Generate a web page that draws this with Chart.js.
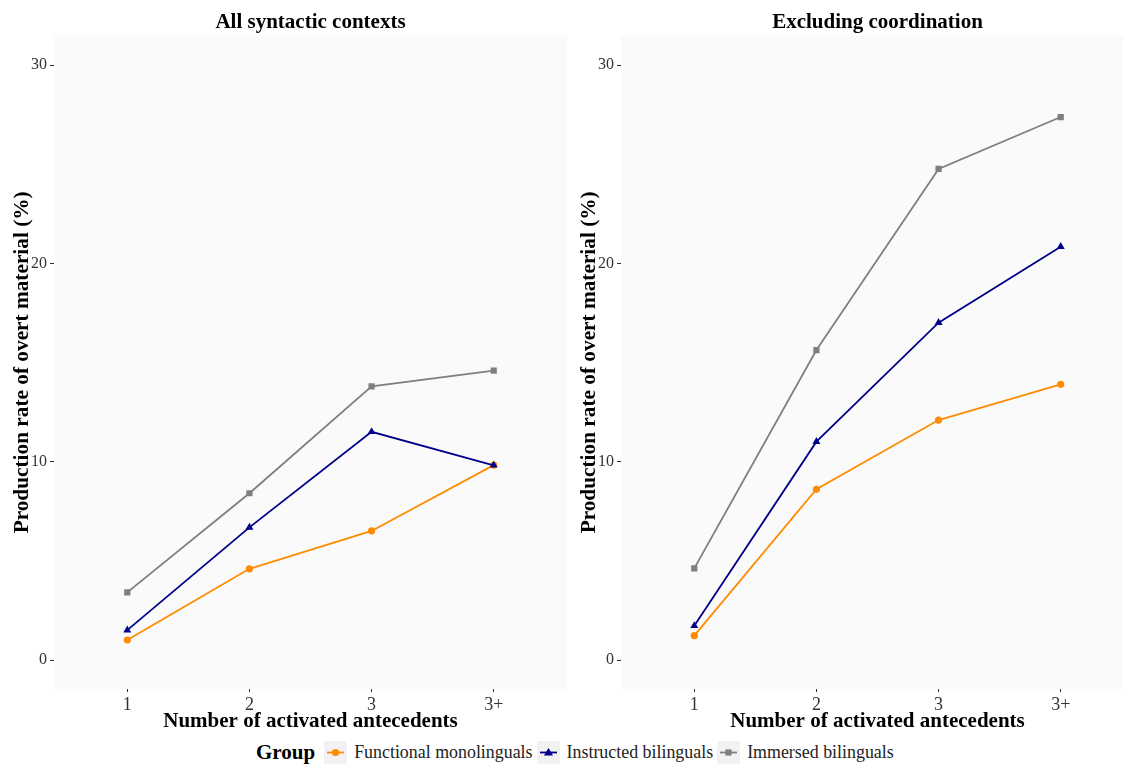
<!DOCTYPE html>
<html>
<head>
<meta charset="utf-8">
<script src="https://cdn.jsdelivr.net/npm/chart.js@4.4.1/dist/chart.umd.min.js"></script>
<style>
  body { margin: 0; width: 1123px; height: 767px; overflow: hidden; background: #fff; position: relative; font-family: "Liberation Serif", "Times New Roman", serif; }
  .panel { position: absolute; top: 0; width: 567px; height: 740px; }
  #legend { position: absolute; left: 256px; top: 741px; height: 23px; display: flex; align-items: center; white-space: nowrap; }
  #legend .title { font-weight: bold; font-size: 21px; margin-right: 9px; }
  #legend .key { width: 23px; height: 23px; background: #f2f2f2; margin-right: 7px; }
  #legend .lab { font-size: 17.9px; color: #222; margin-right: 4px; }
</style>
</head>
<body>
<div class="panel" style="left:0"><canvas id="left"></canvas></div>
<div class="panel" style="left:567px"><canvas id="right"></canvas></div>
<div id="legend"></div>

<script>
  // categories / ticks
  var categories = ["1", "2", "3", "3+"];
  var yTicks = [0, 10, 20, 30];
  var groups = ["Functional monolinguals", "Instructed bilinguals", "Immersed bilinguals"];

  // All syntactic contexts
  var allFunctional = [1.01, 4.60, 6.51, 9.83];
  var allInstructed = [1.51, 6.69, 11.51, 9.82];
  var allImmersed = [3.41, 8.41, 13.80, 14.59];

  // Excluding coordination
  var exclFunctional = [1.23, 8.61, 12.10, 13.90];
  var exclInstructed = [1.73, 11.01, 17.01, 20.84];
  var exclImmersed = [4.62, 15.63, 24.76, 27.38];

  var groupColors = ["#ff8c00", "#00008b", "#7f7f7f"];
  var groupShapes = ["circle", "triangle", "rect"];
  var groupRadius = [3.6, 4.6, 4.4];

  var panelBg = {
    id: "panelBg",
    beforeDraw: function (chart) {
      var a = chart.chartArea, ctx = chart.ctx;
      ctx.save();
      ctx.fillStyle = "#fafafa";
      ctx.fillRect(a.left, a.top, a.right - a.left, a.bottom - a.top);
      ctx.restore();
    }
  };

  function toPoints(values) {
    return values.map(function (v, i) { return { x: i + 1, y: v }; });
  }

  function makeChart(id, title, series) {
    var datasets = series.map(function (vals, g) {
      return {
        label: groups[g],
        data: toPoints(vals),
        borderColor: groupColors[g],
        backgroundColor: groupColors[g],
        borderWidth: 1.8,
        pointStyle: groupShapes[g],
        pointRadius: groupRadius[g],
        pointBorderWidth: 0,
        order: 2 - g,
        tension: 0
      };
    });

    return new Chart(document.getElementById(id), {
      type: "line",
      data: { datasets: datasets },
      plugins: [panelBg],
      options: {
        responsive: true,
        maintainAspectRatio: false,
        animation: false,
        layout: { padding: 0, autoPadding: false },
        plugins: {
          legend: { display: false },
          tooltip: { enabled: false },
          title: {
            display: true,
            text: title,
            fullSize: false,
            color: "#000",
            font: { family: "Liberation Serif", size: 21, weight: "bold", lineHeight: 1.2 },
            padding: { top: 9.5, bottom: 1 }
          }
        },
        scales: {
          x: {
            type: "linear",
            min: 0.4,
            max: 4.6,
            afterBuildTicks: function (s) {
              s.ticks = categories.map(function (c, i) { return { value: i + 1 }; });
            },
            afterFit: function (s) { s.height = 51; s.paddingLeft = 0; s.paddingRight = 0; },
            grid: { display: true, drawOnChartArea: false, drawTicks: true, tickLength: 3, tickColor: "#333", tickWidth: 1 },
            border: { display: false },
            ticks: {
              color: "#333",
              padding: 2,
              maxRotation: 0,
              autoSkip: false,
              font: { family: "Liberation Serif", size: 18 },
              callback: function (v) { return categories[Math.round(v) - 1]; }
            },
            title: {
              display: true,
              text: "Number of activated antecedents",
              color: "#000",
              font: { family: "Liberation Serif", size: 21, weight: "bold", lineHeight: 1.2 },
              padding: { top: 0, bottom: 5.4 }
            }
          },
          y: {
            min: -1.46,
            max: 31.48,
            afterBuildTicks: function (s) {
              s.ticks = yTicks.map(function (v) { return { value: v }; });
            },
            afterFit: function (s) { s.width = 54; },
            grid: { display: true, drawOnChartArea: false, drawTicks: true, tickLength: 4, tickColor: "#333", tickWidth: 1 },
            border: { display: false },
            ticks: {
              color: "#333",
              padding: 3,
              font: { family: "Liberation Serif", size: 16 }
            },
            title: {
              display: true,
              text: "Production rate of overt material (%)",
              color: "#000",
              font: { family: "Liberation Serif", size: 21.3, weight: "bold", lineHeight: 1.2 },
              padding: { top: 10, bottom: 0 }
            }
          }
        }
      }
    });
  }

  makeChart("left", "All syntactic contexts", [allFunctional, allInstructed, allImmersed]);
  makeChart("right", "Excluding coordination", [exclFunctional, exclInstructed, exclImmersed]);

  // legend keys
  function keySvg(g) {
    var c = groupColors[g], m;
    if (groupShapes[g] === "circle") m = '<circle cx="11.5" cy="11.5" r="3.6" fill="' + c + '"/>';
    else if (groupShapes[g] === "triangle") m = '<polygon points="11.5,7 16,14.5 7,14.5" fill="' + c + '"/>';
    else m = '<rect x="8.4" y="8.4" width="6.2" height="6.2" fill="' + c + '"/>';
    return '<svg width="23" height="23"><line x1="3" y1="11.5" x2="20" y2="11.5" stroke="' + c + '" stroke-width="1.8"/>' + m + '</svg>';
  }
  var html = '<span class="title">Group</span>';
  groups.forEach(function (name, g) {
    html += '<span class="key">' + keySvg(g) + '</span><span class="lab">' + name + '</span>';
  });
  document.getElementById("legend").innerHTML = html;
</script>
</body>
</html>
